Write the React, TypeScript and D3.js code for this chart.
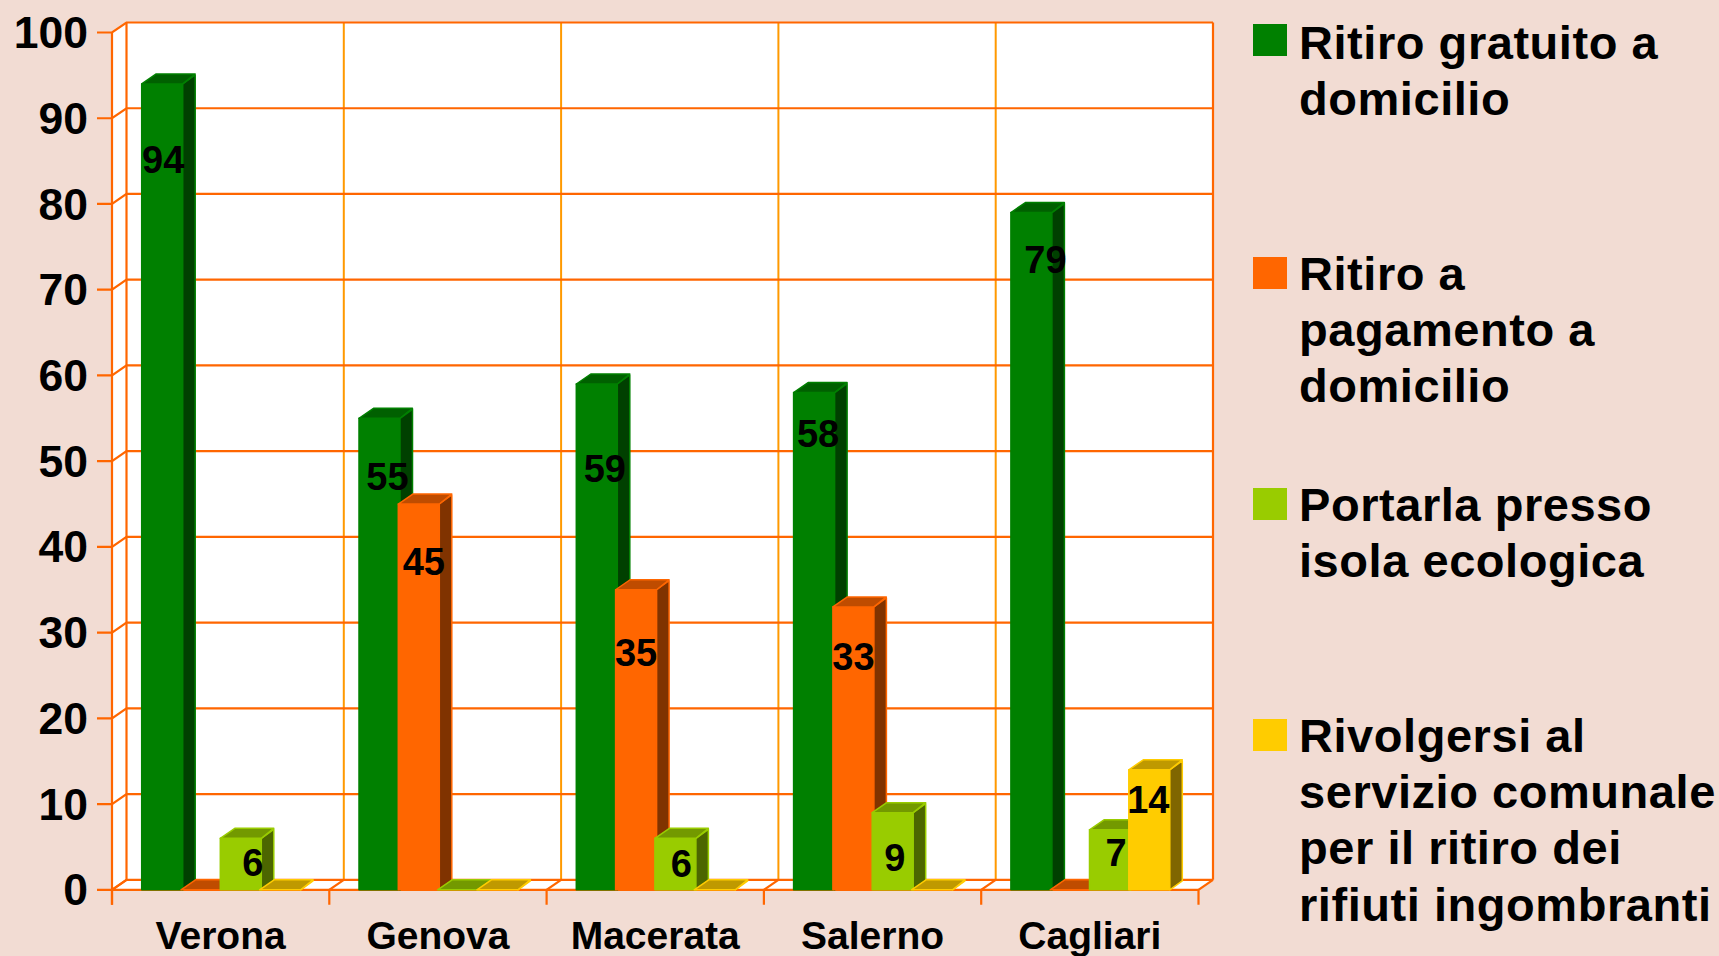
import React from "react";
import * as d3 from "d3";

const categories = ["Verona", "Genova", "Macerata", "Salerno", "Cagliari"];
const seriesNames = [
  ["Ritiro gratuito a", "domicilio"],
  ["Ritiro a", "pagamento a", "domicilio"],
  ["Portarla presso", "isola ecologica"],
  ["Rivolgersi al", "servizio comunale", "per il ritiro dei", "rifiuti ingombranti"],
];
const ritiroGratuito = [94, 55, 59, 58, 79];
const ritiroPagamento = [0, 45, 35, 33, 0];
const isolaEcologica = [6, 0, 6, 9, 7];
const servizioComunale = [0, 0, 0, 0, 14];
const series = [ritiroGratuito, ritiroPagamento, isolaEcologica, servizioComunale];
const yTicks = d3.range(0, 101, 10);

const faces = ["#008000", "#FF6600", "#99CC00", "#FFCC00"];
const tops = ["#006000", "#BF4C00", "#739900", "#BF9900"];
const sides = ["#004000", "#803300", "#4C6600", "#806600"];
const swatchY = [24, 257, 488, 719];
const legendTextY = [59, 290, 521, 752];

// where the source placed each value label, in axis units, and its sideways nudge in px
const labelAt = [
  [85.2, 48.2, 49.1, 53.2, 73.5],
  [0, 38.3, 27.6, 27.2, 0],
  [3.2, 0, 3, 3.8, 4.3],
  [0, 0, 0, 0, 10.5],
];
const labelNudge = [
  [1, 8, 8, 4, 14],
  [0, 5, 0, 0, 0],
  [12, 0, 6, 2, 6],
  [0, 0, 0, 0, -1],
];

const W = 1719, H = 956;
const x0 = 112, x1 = 1198.5, dx = 14.5, dy = 10;
const y = d3.scaleLinear().domain([0, 100]).range([889.8, 32.5]);
const xCat = d3.scaleBand<string>().domain(categories).range([x0, x1]);
const xSer = d3.scaleLinear().domain([0, 1]).range([29.7, 69]);
const barW = 41;
const grid = "#FF6600";
const gridV = "#FF9900";
const font = "'Liberation Sans', Arial, sans-serif";

export default function App() {
  const bw = xCat.bandwidth();
  const edges = d3.range(0, 6).map((i) => x0 + bw * i);
  return (
    <svg width={W} height={H} style={{ position: "fixed", left: 0, top: 0, background: "#F2DCD3" }} fontFamily={font} fontWeight="bold">
      <rect x={x0 + dx} y={y(100) - dy} width={x1 - x0} height={y(0) - y(100)} fill="#fff" />
      <path d={`M${x0},${y(0)}L${x1},${y(0)}L${x1 + dx},${y(0) - dy}L${x0 + dx},${y(0) - dy}Z`} fill="#fff" />
      <path d={`M${x0},${y(0)}L${x0},${y(100)}L${x0 + dx},${y(100) - dy}L${x0 + dx},${y(0) - dy}Z`} fill="#fff" />
      {edges.slice(1, 5).map((e) => (
        <line key={e} x1={e + dx} x2={e + dx} y1={y(100) - dy} y2={y(0) - dy} stroke={gridV} strokeWidth={2} />
      ))}
      {yTicks.map((t) => (
        <g key={t} stroke={grid} strokeWidth={2.2} fill="none">
          <path d={`M${x0 - 15},${y(t)}L${x0},${y(t)}L${x0 + dx},${y(t) - dy}L${x1 + dx},${y(t) - dy}`} />
        </g>
      ))}
      <line x1={x0} x2={x0} y1={y(100)} y2={y(0) + 15} stroke={grid} strokeWidth={2.2} />
      <line x1={x0 + dx} x2={x0 + dx} y1={y(100) - dy} y2={y(0) - dy} stroke={grid} strokeWidth={2.2} />
      <line x1={x1 + dx} x2={x1 + dx} y1={y(100) - dy} y2={y(0) - dy} stroke={grid} strokeWidth={2.2} />
      {edges.map((e) => (
        <path key={e} d={`M${e},${y(0) + 15}L${e},${y(0)}L${e + dx},${y(0) - dy}`} stroke={grid} strokeWidth={2.2} fill="none" />
      ))}
      <line x1={x0} x2={x1} y1={y(0)} y2={y(0)} stroke={grid} strokeWidth={2.2} />

      {categories.map((c, ci) => (
        <g key={c}>
          {series.map((vals, si) => {
            const l = (xCat(c) as number) + xSer(si);
            const r = l + barW;
            const t = y(vals[ci]);
            const b = y(0);
            return (
              <g key={si} stroke={faces[si]} strokeWidth={1.5} strokeLinejoin="round">
                <rect x={l} y={t} width={barW} height={b - t} fill={faces[si]} />
                <path d={`M${r},${t}L${r + dx - 2},${t - dy + 1}L${r + dx - 2},${b - dy + 1}L${r},${b}Z`} fill={sides[si]} />
                <path d={`M${l},${t}L${l + dx},${t - dy}L${r + dx - 2},${t - dy}L${r},${t}Z`} fill={tops[si]} />
              </g>
            );
          })}
        </g>
      ))}

      {categories.map((c, ci) =>
        series.map((vals, si) =>
          vals[ci] > 0 ? (
            <text key={`${ci}-${si}`} x={(xCat(c) as number) + xSer(si) + barW / 2 + labelNudge[si][ci]} y={y(labelAt[si][ci])} dy="0.35em" textAnchor="middle" fontSize={38} fill="#000">
              {vals[ci]}
            </text>
          ) : null
        )
      )}

      {yTicks.map((t) => (
        <text key={t} x={88} y={y(t)} dy="0.35em" textAnchor="end" fontSize={44.5} fill="#000">{t}</text>
      ))}
      {categories.map((c) => (
        <text key={c} x={(xCat(c) as number) + bw / 2} y={949} textAnchor="middle" fontSize={39} fill="#000">{c}</text>
      ))}

      {seriesNames.map((lines, si) => (
        <g key={si}>
          <rect x={1253} y={swatchY[si]} width={34} height={32} fill={faces[si]} />
          {lines.map((ln, i) => (
            <text key={i} x={1299} y={legendTextY[si] + i * 56.2} fontSize={47} letterSpacing={0.55} fill="#000">{ln}</text>
          ))}
        </g>
      ))}
    </svg>
  );
}
